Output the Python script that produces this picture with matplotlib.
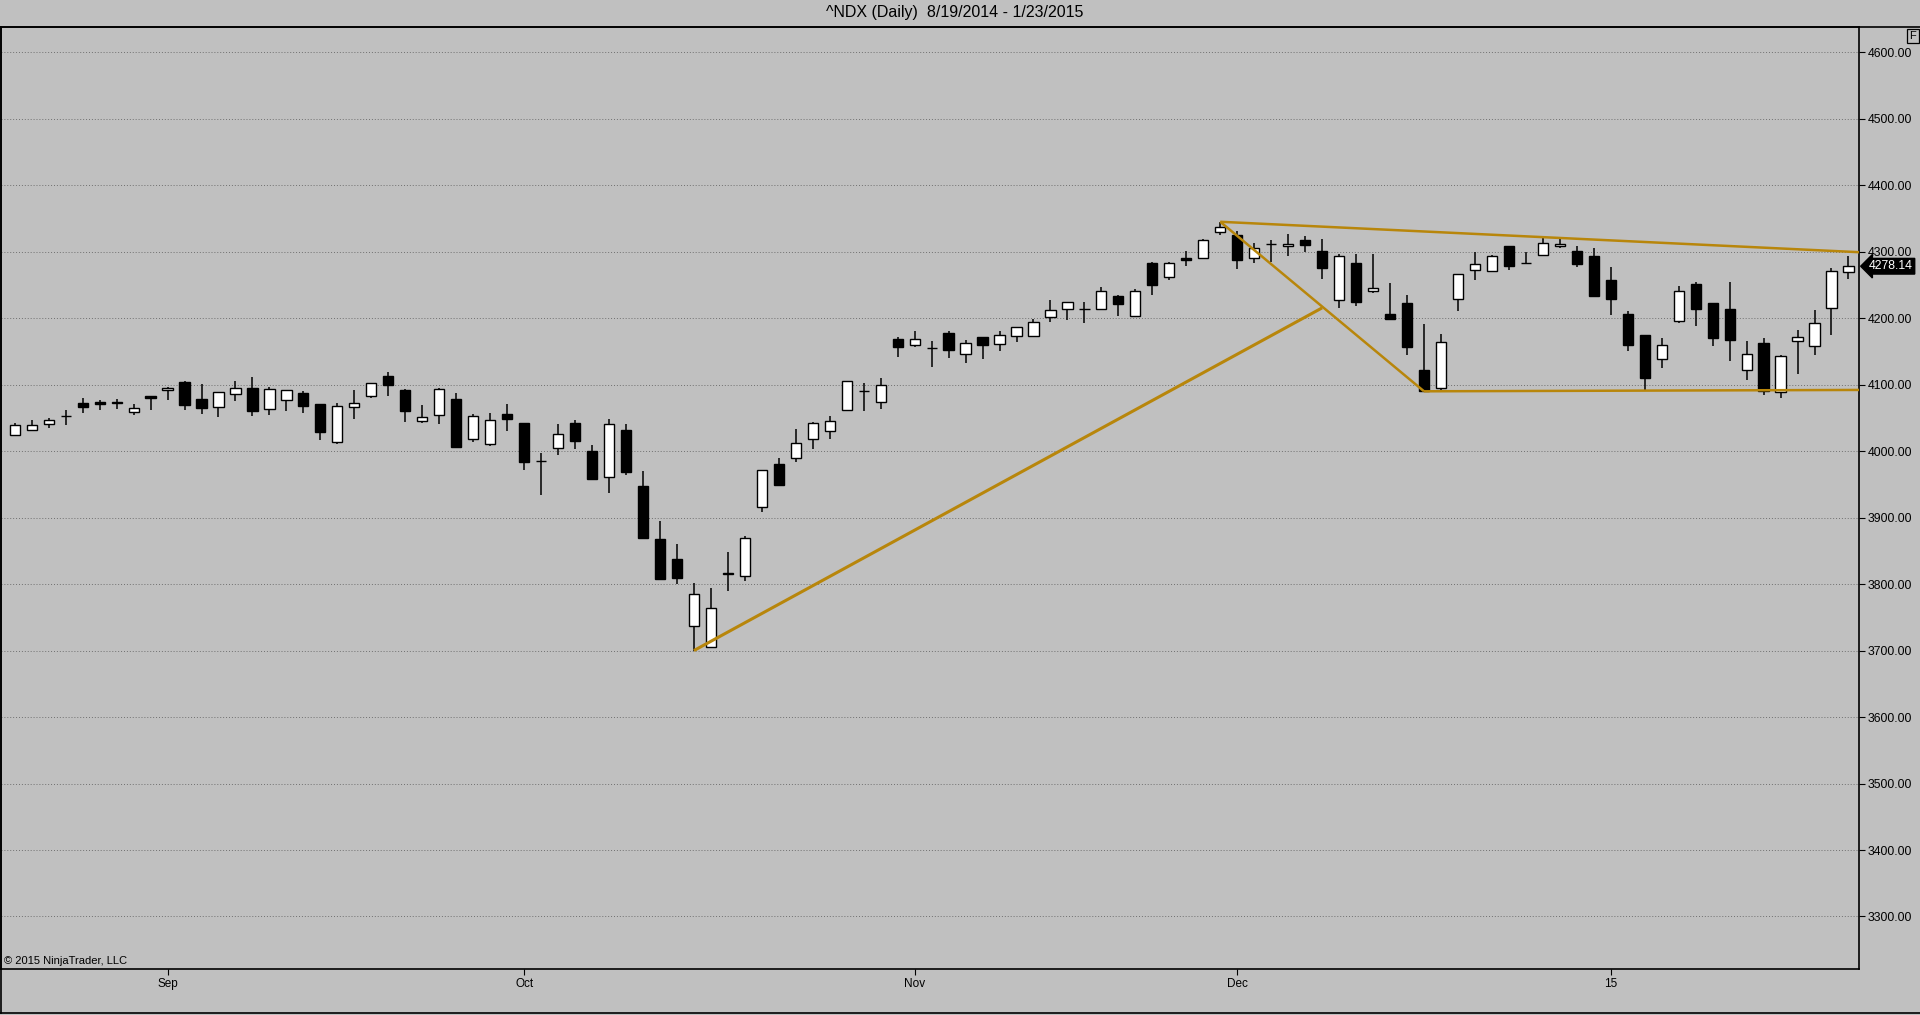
#!/usr/bin/env python3
"""^NDX daily candles 8/19/2014 - 1/23/2015 with hand-drawn trend lines (NinjaTrader style)."""
import numpy as np
import pandas as pd
import matplotlib
matplotlib.use('Agg')
import matplotlib.pyplot as plt
from matplotlib.lines import Line2D
from matplotlib.transforms import blended_transform_factory

plt.rcParams['font.family'] = ['Liberation Sans', 'DejaVu Sans']

TITLE = "^NDX (Daily)  8/19/2014 - 1/23/2015"
START, END = "2014-08-19", "2015-01-23"
HOLIDAYS = ["2014-09-01", "2014-11-27", "2014-12-25", "2015-01-01", "2015-01-19"]

# OHLC
opens = [4025, 4032.5, 4041.5, 4052.5, 4073, 4073.5, 4073, 4059.5, 4082.5, 4092.5,
         4103.5, 4079, 4067, 4086.5, 4094.5, 4064, 4077.5, 4087, 4070.5, 4013,
         4067, 4083.5, 4112.5, 4091.5, 4046, 4055, 4079, 4017.5, 4010, 4055.5,
         4043, 3985, 4004, 4042, 4000, 3960.5, 4031.5, 3947, 3867.5, 3837,
         3737, 3705, 3815.5, 3812.5, 3916, 3980.5, 3989, 4019, 4031, 4062,
         4090, 4073.5, 4168, 4160, 4155, 4178, 4146, 4171, 4161.5, 4173.5,
         4173.5, 4202, 4214, 4213.5, 4214, 4233.5, 4203, 4283, 4262, 4290.5,
         4290.5, 4329.5, 4324.5, 4290.5, 4311.5, 4308.5, 4318, 4301.5, 4227.5, 4283.5,
         4241, 4206.5, 4223, 4122.5, 4095.5, 4228.5, 4272, 4270.5, 4309, 4283,
         4295, 4308.5, 4301.5, 4294, 4258, 4206.5, 4174, 4138.5, 4196, 4251,
         4223, 4214, 4122, 4162.5, 4088.5, 4165.5, 4157.5, 4215, 4269]
highs = [4042.5, 4046.5, 4050, 4062.5, 4080, 4076.5, 4078, 4071.5, 4082.5, 4096.5,
         4105, 4100.5, 4089.5, 4105, 4111, 4096.5, 4092.5, 4090, 4070.5, 4073,
         4091.5, 4103, 4118.5, 4093, 4069, 4095.5, 4087, 4056.5, 4057, 4071,
         4043, 3997.5, 4040.5, 4046.5, 4009, 4049, 4040.5, 3970, 3894.5, 3860,
         3801.5, 3794.5, 3849, 3872, 3971, 3989, 4033, 4044, 4053, 4106,
         4102.5, 4109.5, 4171, 4180, 4165, 4180, 4166.5, 4171, 4180, 4187,
         4199, 4228, 4224.5, 4225, 4247, 4235, 4244, 4285, 4284.5, 4301.5,
         4319, 4345, 4331.5, 4312.5, 4318, 4326.5, 4324, 4319, 4296.5, 4296.5,
         4296.5, 4253, 4235, 4190.5, 4175.5, 4266.5, 4300, 4295, 4309, 4299,
         4320, 4319, 4309, 4306, 4276.5, 4211.5, 4175, 4170, 4248.5, 4254.5,
         4223, 4254.5, 4166, 4170.5, 4145, 4182.5, 4213, 4275, 4293]
lows = [4023, 4031.5, 4035, 4039, 4057.5, 4061.5, 4063, 4054.5, 4061.5, 4076.5,
        4061.5, 4055.5, 4051, 4075.5, 4053, 4055, 4060.5, 4057.5, 4017, 4010,
        4048.5, 4080, 4083, 4043.5, 4042.5, 4041, 4006.5, 4014, 4007.5, 4030.5,
        3971.5, 3934.5, 3994, 4003, 3958.5, 3937, 3964, 3869.5, 3805.5, 3800.5,
        3700, 3704, 3789.5, 3804, 3908.5, 3947.5, 3984, 4003, 4019, 4061,
        4061, 4063, 4141.5, 4156.5, 4126.5, 4140, 4132.5, 4138.5, 4150.5, 4163.5,
        4171.5, 4193.5, 4197, 4192.5, 4214, 4203, 4203, 4235.5, 4257.5, 4278,
        4289, 4324.5, 4273.5, 4282.5, 4285, 4293, 4300, 4258.5, 4215, 4218,
        4237.5, 4199, 4144, 4090, 4091.5, 4211.5, 4257, 4269, 4273, 4281.5,
        4293, 4305, 4276.5, 4233, 4205.5, 4150.5, 4090.5, 4125, 4192.5, 4188.5,
        4157.5, 4135, 4107.5, 4085, 4079.5, 4116.5, 4145, 4174, 4258.5]
closes = [4040, 4040, 4047.5, 4052.5, 4066.5, 4071, 4073, 4065.5, 4080, 4095.5,
          4069.5, 4065, 4089.5, 4095.5, 4060.5, 4094, 4092.5, 4068, 4029, 4067.5,
          4073, 4103, 4099.5, 4060.5, 4052, 4094, 4006.5, 4053, 4047.5, 4049,
          3984, 3985, 4026.5, 4015.5, 3958.5, 4041.5, 3969, 3869.5, 3807, 3809,
          3785.5, 3764.5, 3815.5, 3870, 3971, 3948.5, 4011.5, 4042, 4046, 4105.5,
          4090, 4100, 4156.5, 4169, 4155, 4152, 4163, 4159.5, 4175, 4187,
          4194.5, 4212.5, 4224.5, 4213.5, 4241, 4221, 4241, 4250, 4283, 4287,
          4317.5, 4337, 4287, 4305.5, 4311.5, 4312, 4309.5, 4276, 4293.5, 4224,
          4245.5, 4199, 4156.5, 4090, 4164.5, 4266.5, 4281.5, 4293.5, 4278, 4283,
          4313, 4312, 4281, 4234, 4228.5, 4159.5, 4110, 4160, 4240.5, 4213.5,
          4169.5, 4166.5, 4146, 4090, 4143.5, 4171.5, 4192.5, 4271, 4278.14]

# drawing objects: (start date, price), (end date, price), extend to right edge, width
trend_lines = [
    (("2014-10-15", 3700), ("2014-12-08", 4215.5), False, 2.2),
    (("2014-11-28", 4345), ("2014-12-16", 4090), False, 1.8),
    (("2014-11-28", 4345), ("2015-01-23", 4300), True, 1.8),
    (("2014-12-16", 4090), ("2015-01-23", 4092), True, 1.8),
]
TREND_COLOR = '#B8860B'
BG = '#C0C0C0'

dates = pd.bdate_range(START, END)
dates = dates[~dates.isin(pd.to_datetime(HOLIDAYS))]
assert len(dates) == len(closes)
idx = {d.strftime('%Y-%m-%d'): i for i, d in enumerate(dates)}

o = np.array(opens); h = np.array(highs); l = np.array(lows); c = np.array(closes)
x = np.arange(len(c))

W, H = 1920, 1015
fig = plt.figure(figsize=(W / 100, H / 100), dpi=100, facecolor=BG)
# plot panel in pixel coords: x 1..1859, y 27..969
ax = fig.add_axes([1 / W, (H - 969) / H, 1858 / W, (969 - 27) / H], facecolor=BG)

# wicks then bodies
ax.vlines(x, l, h, color='black', lw=1.1, zorder=2)
up = c >= o
body_h = np.maximum(np.abs(c - o), 0.6)
body_bot = np.minimum(o, c)
ax.bar(x[up], body_h[up], bottom=body_bot[up], width=0.6, color='white',
       edgecolor='black', linewidth=1.0, zorder=3)
ax.bar(x[~up], body_h[~up], bottom=body_bot[~up], width=0.6, color='black',
       edgecolor='black', linewidth=1.0, zorder=3)

xmin, xmax = -0.81, 108.62
for (d0, p0), (d1, p1), extend, lw in trend_lines:
    x0, x1 = idx[d0], idx[d1]
    if extend:
        p1 = p0 + (p1 - p0) / (x1 - x0) * (xmax - x0)
        x1 = xmax
    ax.plot([x0, x1], [p0, p1], color=TREND_COLOR, lw=lw, zorder=4,
            solid_capstyle='butt')

ax.set_xlim(xmin, xmax)
ax.set_ylim(3221, 4638)

# price axis on the right
yt = np.arange(3300, 4601, 100)
ax.yaxis.tick_right()
ax.set_yticks(yt)
ax.set_yticklabels([f'{v:.2f}' for v in yt], fontsize=8.8)
ax.tick_params(axis='y', direction='out', length=4.5, width=0.8, pad=1.5, colors='black')
ax.grid(axis='y', color='#707070', linestyle=(0, (1, 2)), linewidth=0.7)
ax.set_axisbelow(True)

# month ticks at first trading day of each month
month_pos, month_lab = [], []
for i in range(1, len(dates)):
    if dates[i].month != dates[i - 1].month:
        month_pos.append(i)
        month_lab.append(dates[i].strftime('%y') if dates[i].month == 1 else dates[i].strftime('%b'))
ax.set_xticks(month_pos)
ax.set_xticklabels(month_lab, fontsize=8.5)
ax.tick_params(axis='x', direction='out', length=4.5, width=0.8, pad=2)

for s in ax.spines.values():
    s.set_color('black')
    s.set_linewidth(1.2)

# last price marker
tr = blended_transform_factory(ax.transAxes, ax.transData)
ax.text(1 + 10 / 1858, c[-1], f'{c[-1]:.2f}', transform=tr, ha='left', va='center',
        fontsize=8.8, color='white',
        bbox=dict(boxstyle='larrow,pad=0.15', fc='black', ec='black'))

ax.text(0.0015, 0.003, '\u00a9 2015 NinjaTrader, LLC', transform=ax.transAxes,
        fontsize=8, ha='left', va='bottom')

fig.text(0.497, 1 - 13 / H, TITLE, ha='center', va='center', fontsize=11.5)
fig.text(1913 / W, 1 - 36 / H, 'F', ha='center', va='center', fontsize=8,
         bbox=dict(boxstyle='square,pad=0.2', fc='none', ec='black', lw=0.9))

# outer frame lines
fig.add_artist(Line2D([0, 1], [1 - 27 / H] * 2, color='black', lw=1.2))
fig.add_artist(Line2D([1 / W, 1 / W], [1 - 27 / H, 2 / H], color='black', lw=1.2))
fig.add_artist(Line2D([0, 1], [2 / H] * 2, color='black', lw=1.2))

fig.savefig('out.png', dpi=100, facecolor=BG)
